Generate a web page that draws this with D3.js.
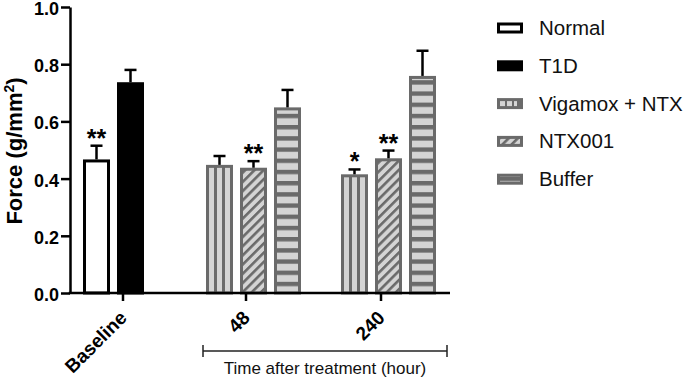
<!DOCTYPE html>
<html>
<head>
<meta charset="utf-8">
<script src="https://cdn.jsdelivr.net/npm/d3@7"></script>
<style>
  body { margin: 0; background: #fff; }
  svg { display: block; font-family: "Liberation Sans", Arial, sans-serif; }
</style>
</head>
<body>
<svg id="chart" width="685" height="379"></svg>
<script>
// values (mean and error)
var groups = ["Baseline", "48", "240"]
var seriesNames = ["Normal", "T1D", "Vigamox + NTX", "NTX001", "Buffer"]
var barGroup = ["Baseline", "Baseline", "48", "48", "48", "240", "240", "240"]
var barSeries = ["Normal", "T1D", "Vigamox + NTX", "NTX001", "Buffer", "Vigamox + NTX", "NTX001", "Buffer"]
var barMean = [0.467, 0.737, 0.448, 0.438, 0.649, 0.415, 0.471, 0.759]
var barErr = [0.048, 0.043, 0.031, 0.023, 0.061, 0.017, 0.027, 0.088]
var barStars = ["**", "", "", "**", "", "*", "**", ""]
var yTicks = [0, 0.2, 0.4, 0.6, 0.8, 1.0]

var DARK = "#6a6a6a", LIGHT = "#d4d4d4"

var dimensions = {
    width: 685,
    height: 379,
    margin: { top: 7, bottom: 86, left: 70 }
}
var slotStep = 34, barW = 27

var svg = d3.select("#chart")
var defs = svg.append("defs")

var yScale = d3.scaleLinear()
    .domain([0, 1])
    .range([dimensions.height - dimensions.margin.bottom, dimensions.margin.top])

// left edge of each group's first bar
var xGroup = d3.scaleOrdinal()
    .domain(groups)
    .range([83, 206, 341])

var bars = barMean.map(function (v, i) {
    var slot = barGroup.slice(0, i).filter(g => g == barGroup[i]).length
    return {
        group: barGroup[i], series: barSeries[i], mean: v, err: barErr[i], stars: barStars[i],
        x: xGroup(barGroup[i]) + slot * slotStep
    }
})
var tickX = g => xGroup(g) + 40
var y0 = yScale(0)

// fill patterns, one per mark so stripes line up with its own edge
function makePattern(id, series, x0, yRef) {
    var p = defs.append("pattern").attr("id", id).attr("patternUnits", "userSpaceOnUse")
    if (series == "Vigamox + NTX") {
        p.attr("x", x0).attr("y", 0).attr("width", 8).attr("height", 10)
        p.append("rect").attr("width", 8).attr("height", 10).attr("fill", LIGHT)
        p.append("rect").attr("width", 3).attr("height", 10).attr("fill", DARK)
    } else if (series == "NTX001") {
        p.attr("x", x0).attr("y", yRef).attr("width", 6.5).attr("height", 6.5)
            .attr("patternTransform", "rotate(45 " + x0 + " " + yRef + ")")
        p.append("rect").attr("width", 6.5).attr("height", 6.5).attr("fill", LIGHT)
        p.append("rect").attr("width", 2.6).attr("height", 6.5).attr("fill", DARK)
    } else if (series == "Buffer") {
        p.attr("x", 0).attr("y", yRef).attr("width", 10).attr("height", 11.2)
        p.append("rect").attr("width", 10).attr("height", 11.2).attr("fill", LIGHT)
        p.append("rect").attr("width", 10).attr("height", 4.4).attr("fill", DARK)
    }
    return "url(#" + id + ")"
}

function fillFor(series, id, x0, yRef) {
    if (series == "Normal") return "#fff"
    if (series == "T1D") return "#000"
    return makePattern(id, series, x0, yRef)
}
var strokeFor = s => (s == "Normal" || s == "T1D") ? "#000" : DARK

// bars
svg.append("g")
    .selectAll("rect")
    .data(bars)
    .enter()
    .append("rect")
    .attr("x", d => d.x + 1.5)
    .attr("y", d => yScale(d.mean) + 1.5)
    .attr("width", barW - 3)
    .attr("height", d => y0 - yScale(d.mean) - 1.5)
    .attr("fill", (d, i) => fillFor(d.series, "bp" + i, d.x, y0))
    .attr("stroke", d => strokeFor(d.series))
    .attr("stroke-width", 3)

// error bars
var eb = svg.append("g").attr("stroke", "#000").attr("stroke-width", 2.5)
bars.forEach(function (d) {
    var cx = d.x + barW / 2
    eb.append("line").attr("x1", cx).attr("x2", cx)
        .attr("y1", yScale(d.mean)).attr("y2", yScale(d.mean + d.err))
    eb.append("line").attr("x1", cx - 6).attr("x2", cx + 6)
        .attr("y1", yScale(d.mean + d.err)).attr("y2", yScale(d.mean + d.err))
})

// significance marks
svg.append("g")
    .selectAll("text")
    .data(bars.filter(d => d.stars != ""))
    .enter()
    .append("text")
    .attr("x", d => d.x + barW / 2)
    .attr("y", d => yScale(d.mean + d.err) + 1)
    .attr("text-anchor", "middle")
    .style("font-size", "25px")
    .style("font-weight", "bold")
    .text(d => d.stars)

// y axis
var yAxisGen = d3.axisLeft(yScale)
    .tickValues(yTicks)
    .tickFormat(d3.format(".1f"))
    .tickSize(9)
    .tickSizeOuter(0)
    .tickPadding(2)
var yAxis = svg.append("g")
    .attr("transform", "translate(" + dimensions.margin.left + ",0)")
    .call(yAxisGen)
yAxis.selectAll("path, line").attr("stroke", "#000").attr("stroke-width", 2.5)
yAxis.selectAll("text")
    .attr("fill", "#000")
    .attr("dy", "0.42em")
    .style("font-family", "'Liberation Sans', Arial, sans-serif")
    .style("font-size", "18px")
    .style("font-weight", "bold")

svg.append("text")
    .attr("transform", "translate(22,151) rotate(-90)")
    .attr("text-anchor", "middle")
    .style("font-size", "22px")
    .style("font-weight", "bold")
    .call(function (t) {
        t.append("tspan").text("Force (g/mm")
        t.append("tspan").attr("baseline-shift", "super").style("font-size", "14px").text("2")
        t.append("tspan").text(")")
    })

// x axis
var xEnd = bars[bars.length - 1].x + barW + 14
var xAxis = svg.append("g").attr("stroke", "#000").attr("stroke-width", 2.5)
xAxis.append("line")
    .attr("x1", dimensions.margin.left - 1.25).attr("x2", xEnd)
    .attr("y1", y0).attr("y2", y0)
xAxis.selectAll(".tick")
    .data(groups)
    .enter()
    .append("line")
    .attr("x1", tickX).attr("x2", tickX)
    .attr("y1", y0).attr("y2", y0 + 8)

svg.append("g")
    .selectAll("text")
    .data(groups)
    .enter()
    .append("text")
    .attr("transform", g => "translate(" + (tickX(g) + 5) + "," + (y0 + 26) + ") rotate(-45)")
    .attr("text-anchor", "end")
    .style("font-size", "19px")
    .style("font-weight", "bold")
    .text(g => g)

// bracket under the treatment groups
var treat = bars.filter(d => d.group != "Baseline")
var bx1 = treat[0].x - 3, bx2 = treat[treat.length - 1].x + barW + 11, by = 351
var br = svg.append("g").attr("stroke", "#222").attr("stroke-width", 1.5)
br.append("line").attr("x1", bx1).attr("x2", bx2).attr("y1", by).attr("y2", by)
br.append("line").attr("x1", bx1).attr("x2", bx1).attr("y1", by - 6).attr("y2", by + 6)
br.append("line").attr("x1", bx2).attr("x2", bx2).attr("y1", by - 6).attr("y2", by + 6)
svg.append("text")
    .attr("x", (bx1 + bx2) / 2)
    .attr("y", 374)
    .attr("text-anchor", "middle")
    .attr("fill", "#111")
    .style("font-size", "17px")
    .text("Time after treatment (hour)")

// legend
var legend = svg.append("g")
seriesNames.forEach(function (s, i) {
    var cy = 28 + i * 37.8
    var sx = 497, sw = 26, sh = 11
    var top = cy - sh / 2
    var fill
    if (s == "Vigamox + NTX") {
        // light squares separated by dark stripes
        fill = DARK
    } else {
        fill = fillFor(s, "lp" + i, sx, top + 3)
    }
    legend.append("rect")
        .attr("x", sx + 1.5).attr("y", top + 1.5)
        .attr("width", sw - 3).attr("height", sh - 3)
        .attr("fill", fill)
        .attr("stroke", strokeFor(s))
        .attr("stroke-width", 3)
    if (s == "Vigamox + NTX") {
        legend.selectAll(".vsq")
            .data([0, 1, 2])
            .enter()
            .append("rect")
            .attr("x", k => sx + 3 + k * 7)
            .attr("y", top + 3)
            .attr("width", k => k == 2 ? 3 : 5)
            .attr("height", sh - 6)
            .attr("fill", LIGHT)
    }
    legend.append("text")
        .attr("x", 539)
        .attr("y", cy + 7)
        .attr("fill", "#111")
        .style("font-size", "20.5px")
        .text(s)
})
</script>
</body>
</html>
